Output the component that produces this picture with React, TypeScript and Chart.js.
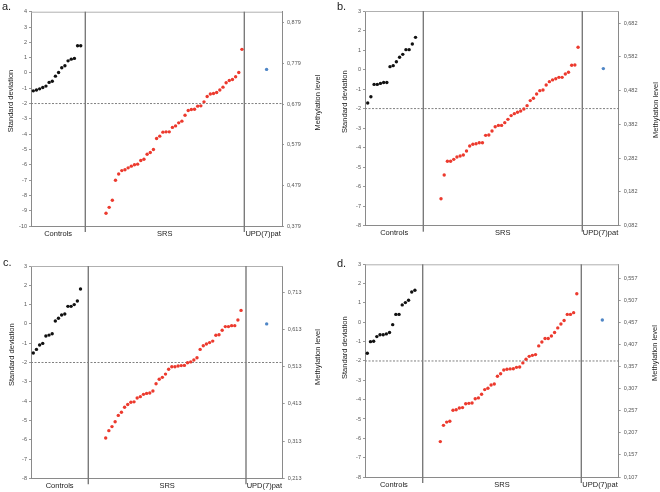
import React, { useEffect, useRef } from "react";
import { Chart, registerables } from "chart.js";

Chart.register(...registerables);

// ---------- data ----------
const CATEGORIES = ["Controls", "SRS", "UPD(7)pat"];

const A_CONTROLS = [-1.17, -1.12, -1.04, -0.95, -0.86, -0.62, -0.54, -0.21, 0.03, 0.34, 0.47, 0.79, 0.9, 0.95, 1.78, 1.78];
const A_SRS = [
  -9.17, -8.78, -8.32, -7.01, -6.6, -6.38, -6.33, -6.2, -6.09, -6.0, -5.96, -5.72, -5.64, -5.31, -5.2, -5.0,
  -4.28, -4.13, -3.87, -3.85, -3.85, -3.56, -3.46, -3.26, -3.15, -2.76, -2.45, -2.39, -2.37, -2.17, -2.15, -1.89,
  -1.54, -1.38, -1.34, -1.28, -1.12, -0.93, -0.64, -0.49, -0.43, -0.25, 0.03, 1.54,
];
const A_UPD = [0.23];
const A_RIGHT_TICKS = [0.379, 0.479, 0.579, 0.679, 0.779, 0.879];

const B_CONTROLS = [-1.71, -1.39, -0.76, -0.76, -0.71, -0.66, -0.66, 0.15, 0.2, 0.4, 0.63, 0.78, 1.02, 1.02, 1.31, 1.65];
const B_SRS = [
  -6.62, -5.4, -4.7, -4.7, -4.6, -4.48, -4.43, -4.38, -4.17, -3.92, -3.83, -3.8, -3.75, -3.75, -3.37, -3.35,
  -3.15, -2.93, -2.86, -2.86, -2.72, -2.55, -2.36, -2.26, -2.19, -2.12, -2.02, -1.85, -1.59, -1.47, -1.25, -1.08,
  -1.05, -0.79, -0.62, -0.53, -0.47, -0.4, -0.4, -0.23, -0.14, 0.22, 0.23, 1.14,
];
const B_UPD = [0.05];
const B_RIGHT_TICKS = [0.082, 0.182, 0.282, 0.382, 0.482, 0.582, 0.682];

const C_CONTROLS = [-1.51, -1.32, -1.09, -1.01, -0.63, -0.58, -0.51, 0.15, 0.29, 0.46, 0.51, 0.91, 0.91, 1.0, 1.19, 1.81];
const C_SRS = [
  -5.91, -5.53, -5.32, -5.07, -4.74, -4.58, -4.32, -4.18, -4.06, -4.04, -3.84, -3.77, -3.65, -3.6, -3.58, -3.48,
  -3.1, -2.87, -2.77, -2.6, -2.35, -2.22, -2.22, -2.18, -2.16, -2.15, -2.01, -1.97, -1.87, -1.75, -1.32, -1.13,
  -1.04, -0.97, -0.89, -0.59, -0.56, -0.33, -0.14, -0.14, -0.09, -0.09, 0.2, 0.7,
];
const C_UPD = [0.0];
const C_RIGHT_TICKS = [0.213, 0.313, 0.413, 0.513, 0.613, 0.713];

const D_CONTROLS = [-1.6, -1.0, -0.98, -0.74, -0.64, -0.64, -0.6, -0.53, -0.12, 0.41, 0.41, 0.9, 1.02, 1.14, 1.57, 1.66];
const D_SRS = [
  -6.17, -5.33, -5.16, -5.12, -4.55, -4.52, -4.43, -4.41, -4.21, -4.19, -4.17, -3.95, -3.91, -3.72, -3.48, -3.41,
  -3.24, -3.19, -2.79, -2.66, -2.47, -2.43, -2.41, -2.4, -2.33, -2.31, -2.1, -1.91, -1.76, -1.71, -1.67, -1.22,
  -1.02, -0.84, -0.84, -0.71, -0.53, -0.29, -0.09, 0.09, 0.41, 0.41, 0.5, 1.48,
];
const D_UPD = [0.12];
const D_RIGHT_TICKS = [0.107, 0.157, 0.207, 0.257, 0.307, 0.357, 0.407, 0.457, 0.507, 0.557];

const THRESHOLD = -2;
const LEFT_TITLE = "Standard deviation";
const RIGHT_TITLE = "Methylation level";

// ---------- layout ----------
type PanelCfg = {
  letter: string;
  letterPos: [number, number];
  pos: [number, number];
  controls: number[];
  srs: number[];
  upd: number[];
  yMin: number;
  yMax: number;
  rightTicks: number[];
  rightMax: number;
  area: { left: number; right: number; top: number; bottom: number };
  xMin: number;
  xMax: number;
  div1: number;
  div2: number;
  updX: number;
  leftTitle: [number, number];
  rightTitle: [number, number];
};

const W = 330;
const H = 246;

const PANELS: PanelCfg[] = [
  {
    letter: "a.", letterPos: [2, 10], pos: [0, 0],
    controls: A_CONTROLS, srs: A_SRS, upd: A_UPD,
    yMin: -10, yMax: 4, rightTicks: A_RIGHT_TICKS, rightMax: 0.906,
    area: { left: 31, right: 282, top: 11.7, bottom: 226 },
    xMin: 0.27, xMax: 79.67, div1: 17.45, div2: 67.75, updX: 74.8,
    leftTitle: [11, 101], rightTitle: [318, 102.5],
  },
  {
    letter: "b.", letterPos: [7, 10], pos: [330, 0],
    controls: B_CONTROLS, srs: B_SRS, upd: B_UPD,
    yMin: -8, yMax: 3, rightTicks: B_RIGHT_TICKS, rightMax: 0.7176,
    area: { left: 35, right: 288.7, top: 11, bottom: 225.7 },
    xMin: 0.15, xMax: 79.75, div1: 18.45, div2: 68.33, updX: 74.93,
    leftTitle: [15, 101.7], rightTitle: [326, 110],
  },
  {
    letter: "c.", letterPos: [3, 20], pos: [0, 246],
    controls: C_CONTROLS, srs: C_SRS, upd: C_UPD,
    yMin: -8, yMax: 3, rightTicks: C_RIGHT_TICKS, rightMax: 0.7828,
    area: { left: 31, right: 282.7, top: 20, bottom: 232.3 },
    xMin: 0.27, xMax: 80.23, div1: 18.47, div2: 68.57, updX: 75.14,
    leftTitle: [11.7, 108.7], rightTitle: [318, 111],
  },
  {
    letter: "d.", letterPos: [7, 20.5], pos: [330, 246],
    controls: D_CONTROLS, srs: D_SRS, upd: D_UPD,
    yMin: -8, yMax: 3, rightTicks: D_RIGHT_TICKS, rightMax: 0.5886,
    area: { left: 35, right: 288.7, top: 18.3, bottom: 231 },
    xMin: 0.275, xMax: 80.2, div1: 18.45, div2: 68.42, updX: 75.04,
    leftTitle: [15, 101.7], rightTitle: [325, 107],
  },
];

const FONT = "'Liberation Sans', Arial, sans-serif";
const TICK_FONT = { family: FONT, size: 5.5 };

function Panel({ cfg }: { cfg: PanelCfg }) {
  const ref = useRef<HTMLCanvasElement>(null);
  useEffect(() => {
    const canvas = ref.current!;
    const { area } = cfg;

    const overlay = {
      id: "overlay" + cfg.letter,
      beforeDatasetsDraw(chart: any) {
        const ctx = chart.ctx;
        const ca = chart.chartArea;
        const xs = chart.scales.x;
        const ys = chart.scales.y;
        ctx.save();
        // top border
        ctx.strokeStyle = "#b0b0b0";
        ctx.lineWidth = 1;
        ctx.beginPath();
        ctx.moveTo(ca.left, ca.top + 0.5);
        ctx.lineTo(ca.right, ca.top + 0.5);
        ctx.stroke();
        // dividers
        ctx.strokeStyle = "#7a7a7a";
        ctx.lineWidth = 1.4;
        [cfg.div1, cfg.div2].forEach((d) => {
          const px = xs.getPixelForValue(d);
          ctx.beginPath();
          ctx.moveTo(px, ca.top);
          ctx.lineTo(px, ca.bottom + 6);
          ctx.stroke();
        });
        // threshold dashed line
        const py = ys.getPixelForValue(THRESHOLD);
        ctx.strokeStyle = "#808080";
        ctx.lineWidth = 1;
        ctx.setLineDash([2, 1.5]);
        ctx.beginPath();
        ctx.moveTo(ca.left, py);
        ctx.lineTo(ca.right, py);
        ctx.stroke();
        ctx.restore();
      },
      afterDraw(chart: any) {
        const ctx = chart.ctx;
        ctx.save();
        ctx.fillStyle = "#222";
        ctx.font = `11px ${FONT}`;
        ctx.textAlign = "left";
        ctx.textBaseline = "alphabetic";
        ctx.fillText(cfg.letter, cfg.letterPos[0], cfg.letterPos[1]);

        ctx.font = `7.5px ${FONT}`;
        ctx.textAlign = "center";
        ctx.textBaseline = "middle";
        const drawRot = (t: string, x: number, y: number) => {
          ctx.save();
          ctx.translate(x, y);
          ctx.rotate(-Math.PI / 2);
          ctx.fillText(t, 0, 0);
          ctx.restore();
        };
        drawRot(LEFT_TITLE, cfg.leftTitle[0], cfg.leftTitle[1]);
        drawRot(RIGHT_TITLE, cfg.rightTitle[0], cfg.rightTitle[1]);
        ctx.restore();
      },
    };

    const centers = [
      (cfg.xMin + cfg.div1) / 2,
      (cfg.div1 + cfg.div2) / 2,
      (cfg.div2 + cfg.xMax) / 2,
    ];

    const chart = new Chart(canvas, {
      type: "scatter",
      data: {
        datasets: [
          {
            label: CATEGORIES[0],
            data: cfg.controls.map((v, i) => ({ x: 1 + i, y: v })),
            backgroundColor: "#111111",
            borderWidth: 0,
            pointRadius: 1.7,
            yAxisID: "y",
          },
          {
            label: CATEGORIES[1],
            data: cfg.srs.map((v, i) => ({ x: 24 + i, y: v })),
            backgroundColor: "#ec3a2e",
            borderWidth: 0,
            pointRadius: 1.7,
            yAxisID: "y",
          },
          {
            label: CATEGORIES[2],
            data: cfg.upd.map((v) => ({ x: cfg.updX, y: v })),
            backgroundColor: "#4f86c6",
            borderWidth: 0,
            pointRadius: 1.7,
            yAxisID: "y",
          },
        ],
      },
      options: {
        animation: false,
        responsive: false,
        events: [],
        layout: { padding: { top: area.top, left: 0, right: 0, bottom: 0 } },
        plugins: { legend: { display: false }, tooltip: { enabled: false } },
        scales: {
          x: {
            type: "linear",
            min: cfg.xMin,
            max: cfg.xMax,
            afterBuildTicks: (scale: any) => {
              scale.ticks = centers.map((v) => ({ value: v }));
            },
            afterFit: (scale: any) => {
              scale.height = H - area.bottom;
            },
            ticks: {
              autoSkip: false,
              maxRotation: 0,
              padding: 3,
              font: { family: FONT, size: 7.5 },
              color: "#222",
              callback: (_v: any, i: number) => CATEGORIES[i],
            },
            grid: { display: false, drawTicks: false },
            border: { display: true, color: "#8a8a8a", width: 1 },
          },
          y: {
            type: "linear",
            position: "left",
            min: cfg.yMin,
            max: cfg.yMax,
            afterFit: (scale: any) => {
              scale.width = area.left;
            },
            ticks: { stepSize: 1, padding: 2, font: TICK_FONT, color: "#555" },
            grid: { display: true, drawOnChartArea: false, drawTicks: true, tickLength: 2, color: "#999" },
            border: { display: true, color: "#8a8a8a", width: 1 },
          },
          y2: {
            type: "linear",
            position: "right",
            min: cfg.rightTicks[0],
            max: cfg.rightMax,
            afterBuildTicks: (scale: any) => {
              scale.ticks = cfg.rightTicks.map((v) => ({ value: v }));
            },
            afterFit: (scale: any) => {
              scale.width = W - area.right;
            },
            ticks: {
              padding: 3,
              font: TICK_FONT,
              color: "#555",
              callback: (v: any) => Number(v).toFixed(3).replace(".", ","),
            },
            grid: { display: true, drawOnChartArea: false, drawTicks: true, tickLength: 2, color: "#999" },
            border: { display: true, color: "#8a8a8a", width: 1 },
          },
        },
      },
      plugins: [overlay],
    } as any);
    return () => chart.destroy();
  }, [cfg]);

  return (
    <canvas
      ref={ref}
      width={W}
      height={H}
      style={{ position: "absolute", left: cfg.pos[0], top: cfg.pos[1], width: W, height: H }}
    />
  );
}

export default function App() {
  return (
    <div style={{ position: "fixed", left: 0, top: 0, width: 660, height: 492, background: "#fff" }}>
      {PANELS.map((p) => (
        <Panel key={p.letter} cfg={p} />
      ))}
    </div>
  );
}
